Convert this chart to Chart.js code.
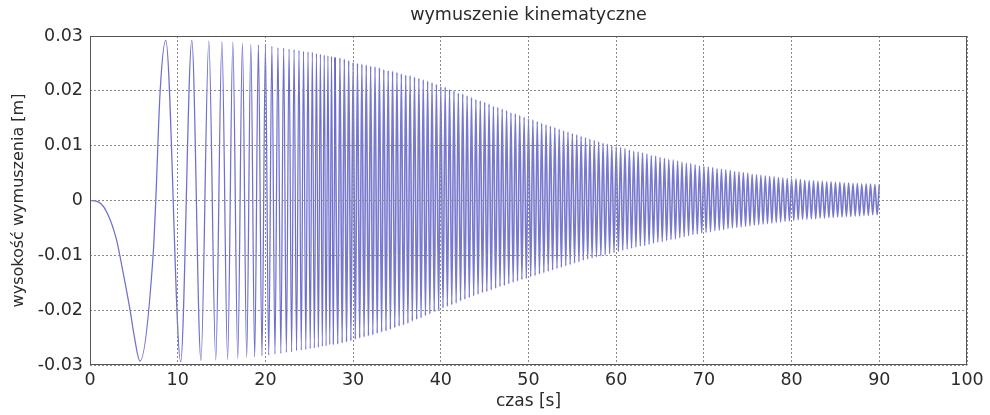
<!DOCTYPE html>
<html>
<head>
<meta charset="utf-8">
<style>
  body { margin: 0; background: #fff; }
  #chart { display: block; }
</style>
<script src="https://cdn.jsdelivr.net/npm/chart.js@4.4.1/dist/chart.umd.min.js"></script>
</head>
<body>
<canvas id="chart" width="990" height="415"></canvas>
<script>
// slow opening swing (s, m)
const swingT = [0, 1, 2, 3, 3.4, 4, 4.56, 5, 5.7, 7.2, 7.5, 8.0];
const swingY = [0, -0.0003, -0.0024, -0.0070, -0.0100, -0.0150, -0.0199, -0.0243, -0.0293, -0.0099, 0, 0.0200];

// peaks that can still be told apart (8.6 s .. 28 s)
const chirpT = [
  8.64, 10.34, 11.61, 12.65, 13.55, 14.34, 15.04, 15.69, 16.29, 16.85,
  17.38, 17.87, 18.34, 18.78, 19.20, 19.61, 20.00, 20.38, 20.74, 21.09,
  21.43, 21.76, 22.08, 22.39, 22.70, 22.99, 23.27, 23.55, 23.83, 24.09,
  24.35, 24.61, 24.86, 25.11, 25.35, 25.58, 25.82, 26.04, 26.27, 26.49,
  26.71, 26.92, 27.13, 27.34, 27.54, 27.74, 27.94
];
const chirpY = [
  0.0292, -0.0294, 0.0292, -0.0292, 0.0291, -0.0291, 0.0290, -0.0290, 0.0289, -0.0288,
  0.0287, -0.0286, 0.0285, -0.0285, 0.0284, -0.0283, 0.0282, -0.0282, 0.0281, -0.0280,
  0.0279, -0.0279, 0.0278, -0.0277, 0.0276, -0.0276, 0.0275, -0.0274, 0.0274, -0.0273,
  0.0272, -0.0272, 0.0271, -0.0270, 0.0270, -0.0269, 0.0268, -0.0268, 0.0267, -0.0266,
  0.0265, -0.0265, 0.0264, -0.0263, 0.0263, -0.0262, 0.0261
];

// dense band: stripe peaks read at picture resolution (28 s .. 90 s)
const denseT = [
  28.25, 28.5, 28.75, 29, 29.25, 29.5, 29.75, 30,
  30.25, 30.5, 30.75, 31, 31.25, 31.5, 31.75, 32,
  32.25, 32.5, 32.75, 33, 33.25, 33.5, 33.75, 34,
  34.25, 34.5, 34.75, 35, 35.25, 35.5, 35.75, 36,
  36.25, 36.5, 36.75, 37, 37.25, 37.5, 37.75, 38,
  38.25, 38.5, 38.75, 39, 39.25, 39.5, 39.75, 40,
  40.25, 40.5, 40.75, 41, 41.25, 41.5, 41.75, 42,
  42.25, 42.5, 42.75, 43, 43.25, 43.5, 43.75, 44,
  44.25, 44.5, 44.75, 45, 45.25, 45.5, 45.75, 46,
  46.25, 46.5, 46.75, 47, 47.25, 47.5, 47.75, 48,
  48.25, 48.5, 48.75, 49, 49.25, 49.5, 49.75, 50,
  50.25, 50.5, 50.75, 51, 51.25, 51.5, 51.75, 52,
  52.25, 52.5, 52.75, 53, 53.25, 53.5, 53.75, 54,
  54.25, 54.5, 54.75, 55, 55.25, 55.5, 55.75, 56,
  56.25, 56.5, 56.75, 57, 57.25, 57.5, 57.75, 58,
  58.25, 58.5, 58.75, 59, 59.25, 59.5, 59.75, 60,
  60.25, 60.5, 60.75, 61, 61.25, 61.5, 61.75, 62,
  62.25, 62.5, 62.75, 63, 63.25, 63.5, 63.75, 64,
  64.25, 64.5, 64.75, 65, 65.25, 65.5, 65.75, 66,
  66.25, 66.5, 66.75, 67, 67.25, 67.5, 67.75, 68,
  68.25, 68.5, 68.75, 69, 69.25, 69.5, 69.75, 70,
  70.25, 70.5, 70.75, 71, 71.25, 71.5, 71.75, 72,
  72.25, 72.5, 72.75, 73, 73.25, 73.5, 73.75, 74,
  74.25, 74.5, 74.75, 75, 75.25, 75.5, 75.75, 76,
  76.25, 76.5, 76.75, 77, 77.25, 77.5, 77.75, 78,
  78.25, 78.5, 78.75, 79, 79.25, 79.5, 79.75, 80,
  80.25, 80.5, 80.75, 81, 81.25, 81.5, 81.75, 82,
  82.25, 82.5, 82.75, 83, 83.25, 83.5, 83.75, 84,
  84.25, 84.5, 84.75, 85, 85.25, 85.5, 85.75, 86,
  86.25, 86.5, 86.75, 87, 87.25, 87.5, 87.75, 88,
  88.25, 88.5, 88.75, 89, 89.25, 89.5, 89.75, 90
];
const denseY = [
  -0.0262, 0.0260, -0.0260, 0.0258, -0.0258, 0.0255, -0.0256, 0.0252,
  -0.0253, 0.0250, -0.0251, 0.0249, -0.0249, 0.0247, -0.0247, 0.0245,
  -0.0245, 0.0244, -0.0242, 0.0242, -0.0240, 0.0239, -0.0238, 0.0237,
  -0.0235, 0.0236, -0.0232, 0.0234, -0.0229, 0.0231, -0.0227, 0.0229,
  -0.0224, 0.0228, -0.0220, 0.0225, -0.0217, 0.0223, -0.0214, 0.0220,
  -0.0210, 0.0218, -0.0207, 0.0215, -0.0203, 0.0212, -0.0200, 0.0208,
  -0.0196, 0.0207, -0.0193, 0.0203, -0.0190, 0.0200, -0.0187, 0.0196,
  -0.0183, 0.0194, -0.0180, 0.0191, -0.0177, 0.0188, -0.0174, 0.0184,
  -0.0171, 0.0182, -0.0168, 0.0179, -0.0166, 0.0176, -0.0163, 0.0172,
  -0.0160, 0.0170, -0.0157, 0.0167, -0.0155, 0.0164, -0.0152, 0.0160,
  -0.0149, 0.0158, -0.0147, 0.0155, -0.0144, 0.0152, -0.0142, 0.0149,
  -0.0139, 0.0147, -0.0137, 0.0144, -0.0134, 0.0141, -0.0132, 0.0138,
  -0.0129, 0.0136, -0.0127, 0.0133, -0.0124, 0.0130, -0.0122, 0.0127,
  -0.0119, 0.0125, -0.0117, 0.0122, -0.0114, 0.0120, -0.0112, 0.0117,
  -0.0109, 0.0115, -0.0107, 0.0112, -0.0105, 0.0110, -0.0103, 0.0107,
  -0.0101, 0.0105, -0.0099, 0.0103, -0.0097, 0.0100, -0.0095, 0.0098,
  -0.0093, 0.0097, -0.0091, 0.0095, -0.0089, 0.0092, -0.0087, 0.0090,
  -0.0085, 0.0089, -0.0083, 0.0087, -0.0082, 0.0085, -0.0080, 0.0082,
  -0.0078, 0.0081, -0.0076, 0.0079, -0.0075, 0.0077, -0.0073, 0.0075,
  -0.0071, 0.0074, -0.0070, 0.0072, -0.0068, 0.0070, -0.0066, 0.0068,
  -0.0064, 0.0067, -0.0062, 0.0065, -0.0061, 0.0063, -0.0059, 0.0062,
  -0.0058, 0.0061, -0.0057, 0.0060, -0.0055, 0.0058, -0.0054, 0.0057,
  -0.0053, 0.0056, -0.0051, 0.0055, -0.0050, 0.0053, -0.0049, 0.0052,
  -0.0048, 0.0051, -0.0047, 0.0050, -0.0046, 0.0048, -0.0045, 0.0047,
  -0.0044, 0.0046, -0.0043, 0.0045, -0.0042, 0.0044, -0.0041, 0.0043,
  -0.0040, 0.0042, -0.0039, 0.0041, -0.0038, 0.0040, -0.0037, 0.0039,
  -0.0036, 0.0039, -0.0035, 0.0038, -0.0034, 0.0037, -0.0034, 0.0036,
  -0.0033, 0.0036, -0.0033, 0.0035, -0.0032, 0.0035, -0.0032, 0.0034,
  -0.0031, 0.0034, -0.0031, 0.0033, -0.0030, 0.0033, -0.0030, 0.0032,
  -0.0029, 0.0032, -0.0029, 0.0031, -0.0028, 0.0031, -0.0028, 0.0030,
  -0.0027, 0.0030, -0.0027, 0.0030, -0.0026, 0.0029, -0.0026, 0.0029
];

const xTicks = [0, 10, 20, 30, 40, 50, 60, 70, 80, 90, 100];
const yTicks = [-0.03, -0.02, -0.01, 0, 0.01, 0.02, 0.03];

const chartTitle = "wymuszenie kinematyczne";
const xTitle = "czas [s]";
const yTitle = "wysokość wymuszenia [m]";

function toPoints(ts, ys) {
  return ts.map((t, i) => ({ x: t, y: ys[i] }));
}
const earlyPoints = toPoints(swingT.concat(chirpT), swingY.concat(chirpY));
// dense part picks up where the last resolvable peak ends
const densePoints = toPoints(chirpT.slice(-1).concat(denseT), chirpY.slice(-1).concat(denseY));

const FONT = "'DejaVu Sans', sans-serif";
const TEXT = "#2b2b2b";

// MATLAB-style box round the plot area
const boxPlugin = {
  id: "box",
  afterDraw(chart) {
    const a = chart.chartArea;
    const ctx = chart.ctx;
    ctx.save();
    ctx.strokeStyle = "#555";
    ctx.lineWidth = 1;
    ctx.strokeRect(a.left + 0.5, a.top + 0.5, a.right - a.left - 1, a.bottom - a.top - 1);
    ctx.restore();
  }
};

new Chart(document.getElementById("chart"), {
  type: "line",
  data: {
    datasets: [{
      data: earlyPoints,
      borderColor: "rgba(75,75,195,0.8)",
      borderWidth: 1.25,
      pointRadius: 0,
      cubicInterpolationMode: "monotone",
      fill: false
    }, {
      data: densePoints,
      borderColor: "rgba(75,75,190,0.75)",
      borderWidth: 1.6,
      pointRadius: 0,
      cubicInterpolationMode: "monotone",
      fill: false
    }]
  },
  options: {
    responsive: false,
    animation: false,
    layout: { padding: { left: 0, right: 23, top: 0, bottom: 0 } },
    plugins: {
      legend: { display: false },
      tooltip: { enabled: false },
      title: {
        display: true,
        text: chartTitle,
        fullSize: false,
        color: TEXT,
        font: { family: FONT, size: 17.5, weight: "normal" },
        padding: { top: 5, bottom: 10 }
      }
    },
    scales: {
      x: {
        type: "linear",
        min: 0,
        max: 100,
        afterFit: (s) => { s.height = 50; },
        afterBuildTicks: (s) => { s.ticks = xTicks.map(v => ({ value: v })); },
        ticks: { color: TEXT, padding: 5, maxRotation: 0, font: { family: FONT, size: 17.5 } },
        grid: { color: "#8a8a8a", drawTicks: false, z: 1 },
        border: { display: false, dash: [2, 2] },
        title: {
          display: true,
          text: xTitle,
          color: TEXT,
          font: { family: FONT, size: 17 },
          padding: { top: 0, bottom: 3 }
        }
      },
      y: {
        type: "linear",
        min: -0.03,
        max: 0.03,
        afterFit: (s) => { s.width = 90; },
        afterBuildTicks: (s) => { s.ticks = yTicks.map(v => ({ value: v })); },
        ticks: {
          color: TEXT,
          padding: 7,
          font: { family: FONT, size: 17.5 },
          callback: (v) => String(Number(v.toFixed(2)))
        },
        grid: { color: "#8a8a8a", drawTicks: false, z: 1 },
        border: { display: false, dash: [2, 2] },
        title: {
          display: true,
          text: yTitle,
          color: TEXT,
          font: { family: FONT, size: 16 },
          padding: { top: 9, bottom: 0 }
        }
      }
    }
  },
  plugins: [boxPlugin]
});
</script>
</body>
</html>
